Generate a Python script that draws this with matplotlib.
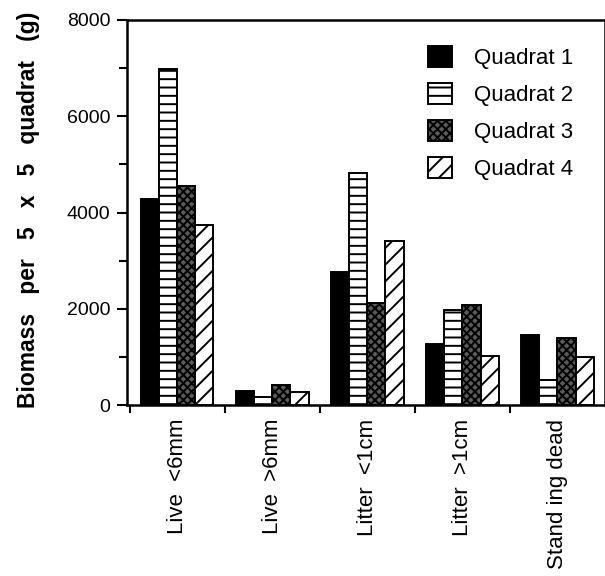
import matplotlib
matplotlib.use("Agg")
import matplotlib.pyplot as plt
import numpy as np

categories = ["Live  <6mm", "Live  >6mm", "Litter  <1cm", "Litter  >1cm", "Stand ing dead"]
series_names = ["Quadrat 1", "Quadrat 2", "Quadrat 3", "Quadrat 4"]
quadrat1 = [4280, 300, 2770, 1270, 1450]
quadrat2 = [6980, 160, 4830, 1970, 520]
quadrat3 = [4560, 410, 2110, 2080, 1400]
quadrat4 = [3730, 280, 3410, 1020, 990]
yticks = [0, 2000, 4000, 6000, 8000]

plt.rcParams['font.family'] = ['Liberation Sans', 'DejaVu Sans']
plt.rcParams['hatch.linewidth'] = 1.4

fig = plt.figure(figsize=(6.05, 5.76), dpi=100)
ax = fig.add_axes([127/605, 1-405/576, 1-127/605, (405-20)/576])

styles = [
    dict(facecolor='black', hatch=None),
    dict(facecolor='white', hatch='--'),
    dict(facecolor='#5a5a5a', hatch='xxxx'),
    dict(facecolor='white', hatch='//'),
]
data = [quadrat1, quadrat2, quadrat3, quadrat4]
x = np.arange(len(categories))
w = 0.19
for i, (vals, st, name) in enumerate(zip(data, styles, series_names)):
    ax.bar(x + (i - 1.5) * w, vals, width=w, facecolor=st['facecolor'],
           edgecolor='black', linewidth=1.4, hatch=st['hatch'], label=name)

ax.set_xlim(-0.53, 4.5)
ax.set_ylim(0, 8000)
ax.set_yticks(yticks)
ax.set_yticks(np.arange(0, 8001, 1000), minor=True)
ax.tick_params(axis='y', which='major', direction='out', length=7, width=1.5, labelsize=14, pad=5)
ax.tick_params(axis='y', which='minor', direction='out', length=5.5, width=1.5)
ax.set_xticks(x)
ax.set_xticklabels(categories, rotation=90, fontsize=16)
ax.set_xticks([-0.5, 0.5, 1.5, 2.5, 3.5], minor=True)
ax.tick_params(axis='x', which='major', length=0, pad=10)
ax.tick_params(axis='x', which='minor', direction='out', length=6, width=1.5)
for s in ax.spines.values():
    s.set_linewidth(1.8)

ax.set_ylabel("Biomass   per   5   x   5   quadrat   (g)", fontsize=16.5, fontweight='bold')
ax.yaxis.set_label_coords(-0.183, 0.506)

fig.legend(loc='upper left', bbox_to_anchor=(428/605, 1-46/576), frameon=False,
           fontsize=16, handlelength=1.08, handleheight=1.08, labelspacing=0.62,
           handletextpad=1.0, borderpad=0, borderaxespad=0)

fig.savefig("out.png", dpi=100)
